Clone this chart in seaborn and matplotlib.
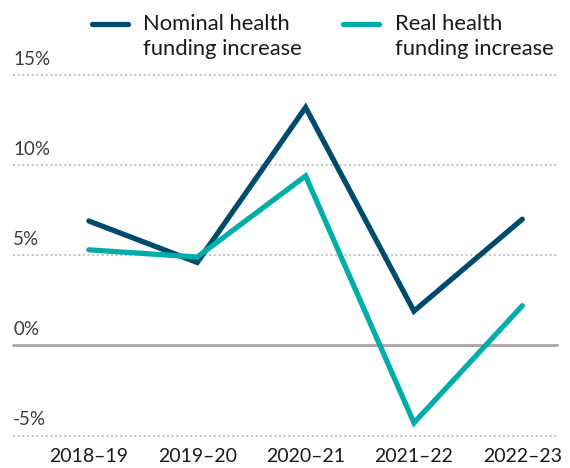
import matplotlib
matplotlib.use("Agg")
import matplotlib.pyplot as plt
import matplotlib.transforms as mtransforms
from matplotlib.lines import Line2D
import seaborn as sns
import pandas as pd

years = ["2018–19", "2019–20", "2020–21", "2021–22", "2022–23"]
nominal = [6.9, 4.6, 13.2, 1.9, 7.0]
real = [5.3, 4.9, 9.4, -4.3, 2.2]
series_names = ["Nominal health\nfunding increase", "Real health\nfunding increase"]
y_ticks = [-5, 0, 5, 10, 15]
y_tick_labels = ["-5%", "0%", "5%", "10%", "15%"]

colors = ["#004B6B", "#00ADA9"]

sns.set_theme(style="white")
plt.rcParams["font.family"] = ["Lato", "DejaVu Sans"]

df = pd.DataFrame({
    "year": list(range(len(years))) * 2,
    "value": nominal + real,
    "series": [series_names[0]] * len(years) + [series_names[1]] * len(years),
})

W, H = 570, 468
fig = plt.figure(figsize=(W / 100, H / 100), dpi=100)
ax = fig.add_axes([13 / W, (H - 435.5) / H, (557 - 13) / W, (435.5 - 75) / H])

sns.lineplot(data=df, x="year", y="value", hue="series", palette=colors,
             hue_order=series_names, legend=False, ax=ax, linewidth=3.8,
             zorder=3)
for ln in ax.get_lines():
    ln.set_solid_capstyle("round")
    ln.set_solid_joinstyle("miter")

ax.set_xlim(-0.70, 4.32)
ax.set_ylim(-5, 15)

for t in y_ticks:
    if t == 0:
        ax.axhline(t, color="#aaa6a6", lw=2.0, zorder=1, clip_on=False)
    else:
        ax.axhline(t, color="#c4c4c4", lw=1.4, ls=(0, (1, 1.4)), zorder=1,
                   clip_on=False)

trans = mtransforms.offset_copy(ax.get_yaxis_transform(), fig=fig, x=0, y=7.5, units="points")
for t, lab in zip(y_ticks, y_tick_labels):
    ax.text(0, t, lab, transform=trans, ha="left", va="baseline",
            fontsize=13.5, color="#3a3a3a")

ax.set_yticks([])
ax.set_xticks(range(len(years)))
ax.set_xticklabels(years, fontsize=14, color="#1a1a1a")
ax.tick_params(axis="x", length=0, pad=9)
ax.set_xlabel("")
ax.set_ylabel("")
for s in ax.spines.values():
    s.set_visible(False)

# manual legend
def fx(px):
    return px / W

def fy(py):
    return (H - py) / H

for i, (x0, tx) in enumerate([(92, 143), (343, 395)]):
    fig.add_artist(Line2D([fx(x0), fx(x0 + 36)], [fy(24), fy(24)],
                          transform=fig.transFigure, color=colors[i],
                          lw=3.8, solid_capstyle="round"))
    fig.text(fx(tx), fy(30), series_names[i].split("\n")[0], ha="left",
             va="baseline", fontsize=15.8, color="#1a1a1a")
    fig.text(fx(tx), fy(55), series_names[i].split("\n")[1], ha="left",
             va="baseline", fontsize=15.8, color="#1a1a1a")

fig.savefig("out.png", dpi=100)
